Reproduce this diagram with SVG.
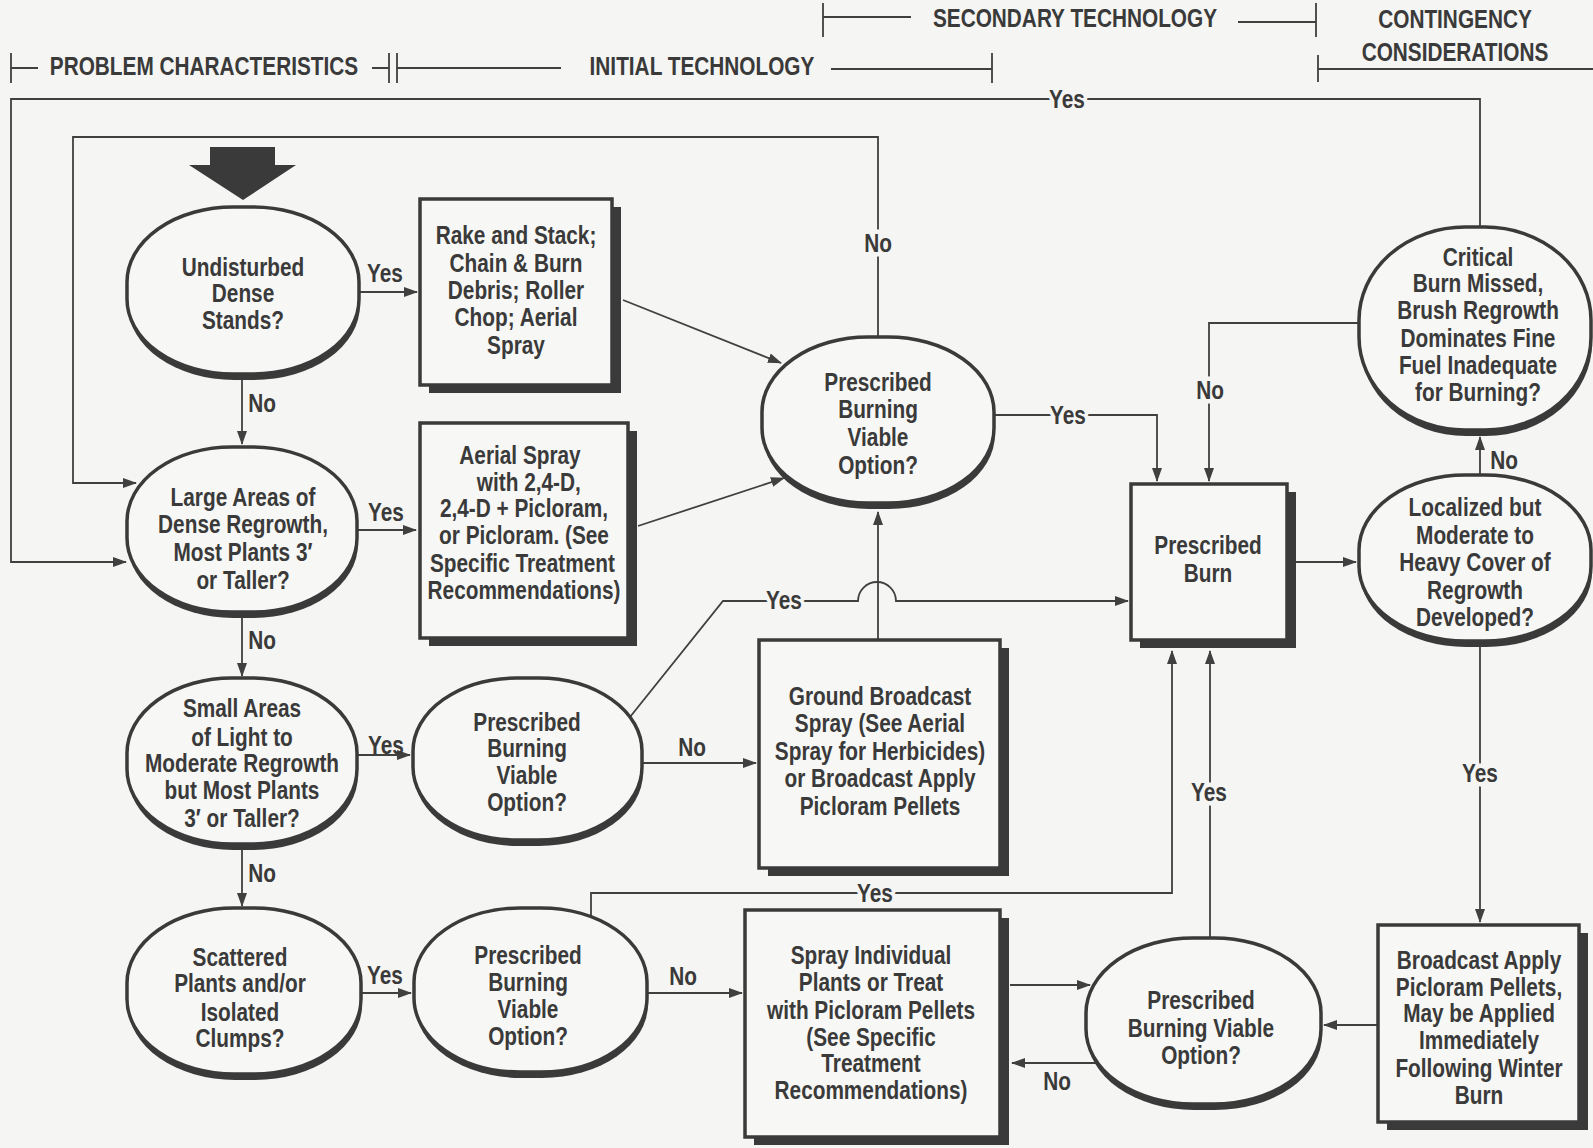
<svg xmlns="http://www.w3.org/2000/svg" width="1593" height="1148" viewBox="0 0 1593 1148">
  <defs>
    <marker id="ah" markerWidth="14" markerHeight="10" refX="13" refY="5" orient="auto" markerUnits="userSpaceOnUse">
      <path d="M0,0 L14,5 L0,10 z" fill="#404040"/>
    </marker>
    <style>
      .bg { fill:#f5f5f3; }
      .ln { fill:none; stroke:#404040; stroke-width:1.8; }
      .arr { marker-end:url(#ah); }
      .br { fill:none; stroke:#404040; stroke-width:1.8; }
      .shape { fill:#f7f7f5; stroke:#3a3a3a; stroke-width:3.5; }
      .shadow { fill:#3a3a3a; }
      .t { font-family:"Liberation Sans", Arial, sans-serif; font-weight:bold; font-size:26px; fill:#3a3a3a; text-anchor:middle; }
      .halo { stroke:#f5f5f3; stroke-width:9; stroke-linejoin:round; paint-order:stroke; }
    </style>
  </defs>

  <rect class="bg" x="0" y="0" width="1593" height="1148"/>

  <!-- column headings with bracket rules -->
  <g id="headings">
    <path class="br" d="M11,53 V83 M11,68 H38 M372,68 H389 M389,53 V83 M397,53 V83 M397,68 H561 M831,69 H992 M992,53 V83 M823,3 V37 M823,17 H911 M1238,22 H1316 M1316,3 V37 M1318,55 V82 M1318,69 H1593"/>
    <text class="t" transform="translate(204 0) scale(0.8 1)"><tspan x="0" y="75">PROBLEM  CHARACTERISTICS</tspan></text>
    <text class="t" transform="translate(702 0) scale(0.8 1)"><tspan x="0" y="75">INITIAL  TECHNOLOGY</tspan></text>
    <text class="t" transform="translate(1075 0) scale(0.8 1)"><tspan x="0" y="27">SECONDARY  TECHNOLOGY</tspan></text>
    <text class="t" transform="translate(1455 0) scale(0.8 1)"><tspan x="0" y="28">CONTINGENCY</tspan><tspan x="0" y="61">CONSIDERATIONS</tspan></text>
  </g>

  <!-- connectors -->
  <g id="connectors">
    <path class="ln arr" d="M1480,227 V99 H11 V562 H126"/>
    <path class="ln arr" d="M878,337 V137 H73 V483 H136"/>
    <path class="ln arr" d="M360,292 H417"/>
    <path class="ln arr" d="M242,380 V444"/>
    <path class="ln arr" d="M623,300 L781,363"/>
    <path class="ln arr" d="M357,530 H416"/>
    <path class="ln arr" d="M638,526 L784,478"/>
    <path class="ln arr" d="M242,618 V676"/>
    <path class="ln arr" d="M357,755 H410"/>
    <path class="ln arr" d="M643,763 H756"/>
    <path class="ln arr" d="M630,717 L723,601 H858 A19,19 0 0 1 896,601 H1128"/>
    <path class="ln arr" d="M878,640 V512"/>
    <path class="ln arr" d="M242,850 V906"/>
    <path class="ln arr" d="M362,993 H411"/>
    <path class="ln arr" d="M648,993 H742"/>
    <path class="ln arr" d="M591,920 V893 H1172 V651"/>
    <path class="ln arr" d="M994,415 H1157 V481"/>
    <path class="ln arr" d="M1359,323 H1209 V481"/>
    <path class="ln arr" d="M1295,562 H1356"/>
    <path class="ln arr" d="M1480,475 V437"/>
    <path class="ln arr" d="M1480,647 V922"/>
    <path class="ln arr" d="M1378,1025 H1324"/>
    <path class="ln arr" d="M1210,938 V651"/>
    <path class="ln arr" d="M1010,985 H1090"/>
    <path class="ln arr" d="M1098,1063 H1012"/>

    <!-- branch labels -->
    <text class="t halo" transform="translate(1067 0) scale(0.8 1)"><tspan x="0" y="108">Yes</tspan></text>
    <text class="t halo" transform="translate(878 0) scale(0.8 1)"><tspan x="0" y="252">No</tspan></text>
    <text class="t" transform="translate(385 0) scale(0.8 1)"><tspan x="0" y="282">Yes</tspan></text>
    <text class="t" transform="translate(262 0) scale(0.8 1)"><tspan x="0" y="412">No</tspan></text>
    <text class="t" transform="translate(386 0) scale(0.8 1)"><tspan x="0" y="521">Yes</tspan></text>
    <text class="t" transform="translate(262 0) scale(0.8 1)"><tspan x="0" y="649">No</tspan></text>
    <text class="t" transform="translate(386 0) scale(0.8 1)"><tspan x="0" y="754">Yes</tspan></text>
    <text class="t" transform="translate(692 0) scale(0.8 1)"><tspan x="0" y="756">No</tspan></text>
    <text class="t halo" transform="translate(784 0) scale(0.8 1)"><tspan x="0" y="609">Yes</tspan></text>
    <text class="t" transform="translate(262 0) scale(0.8 1)"><tspan x="0" y="882">No</tspan></text>
    <text class="t" transform="translate(385 0) scale(0.8 1)"><tspan x="0" y="984">Yes</tspan></text>
    <text class="t" transform="translate(683 0) scale(0.8 1)"><tspan x="0" y="985">No</tspan></text>
    <text class="t halo" transform="translate(875 0) scale(0.8 1)"><tspan x="0" y="902">Yes</tspan></text>
    <text class="t halo" transform="translate(1068 0) scale(0.8 1)"><tspan x="0" y="424">Yes</tspan></text>
    <text class="t halo" transform="translate(1210 0) scale(0.8 1)"><tspan x="0" y="399">No</tspan></text>
    <text class="t" transform="translate(1504 0) scale(0.8 1)"><tspan x="0" y="469">No</tspan></text>
    <text class="t halo" transform="translate(1480 0) scale(0.8 1)"><tspan x="0" y="782">Yes</tspan></text>
    <text class="t halo" transform="translate(1209 0) scale(0.8 1)"><tspan x="0" y="801">Yes</tspan></text>
    <text class="t" transform="translate(1057 0) scale(0.8 1)"><tspan x="0" y="1090">No</tspan></text>
  </g>

  <!-- entry arrow -->
  <g id="start">
    <polygon class="shadow" points="210,147 275,147 275,165 296,165 243,200 189,165 210,165"/>
  </g>

  <!-- decision: undisturbed dense stands -->
  <g id="q-undisturbed">
    <rect class="shadow" x="128" y="213" width="232" height="167" rx="106" ry="75"/>
    <rect class="shape" x="127" y="207" width="232" height="167" rx="106" ry="75"/>
    <text class="t" transform="translate(243 0) scale(0.8 1)"><tspan x="0" y="276">Undisturbed</tspan><tspan x="0" y="302">Dense</tspan><tspan x="0" y="329">Stands?</tspan></text>
  </g>

  <!-- treatment: mechanical -->
  <g id="t-rake">
    <rect class="shadow" x="429" y="207" width="192" height="186"/>
    <rect class="shape" x="420" y="199" width="192" height="186"/>
    <text class="t" transform="translate(516 0) scale(0.8 1)"><tspan x="0" y="244">Rake and Stack;</tspan><tspan x="0" y="272">Chain &amp; Burn</tspan><tspan x="0" y="299">Debris; Roller</tspan><tspan x="0" y="326">Chop; Aerial</tspan><tspan x="0" y="354">Spray</tspan></text>
  </g>

  <!-- decision: large areas of dense regrowth -->
  <g id="q-large">
    <rect class="shadow" x="128" y="453" width="230" height="165" rx="105" ry="74"/>
    <rect class="shape" x="127" y="447" width="230" height="165" rx="105" ry="74"/>
    <text class="t" transform="translate(243 0) scale(0.8 1)"><tspan x="0" y="506">Large Areas of</tspan><tspan x="0" y="533">Dense Regrowth,</tspan><tspan x="0" y="561">Most Plants 3′</tspan><tspan x="0" y="589">or Taller?</tspan></text>
  </g>

  <!-- treatment: aerial spray -->
  <g id="t-aerial">
    <rect class="shadow" x="429" y="431" width="208" height="215"/>
    <rect class="shape" x="420" y="423" width="208" height="215"/>
    <text class="t" transform="translate(524 0) scale(0.8 1)"><tspan x="-5" y="464">Aerial Spray</tspan><tspan x="6" y="491">with 2,4-D,</tspan><tspan x="0" y="517">2,4-D + Picloram,</tspan><tspan x="0" y="544">or Picloram. (See</tspan><tspan x="-2" y="572">Specific Treatment</tspan><tspan x="0" y="599">Recommendations)</tspan></text>
  </g>

  <!-- decision: small areas -->
  <g id="q-small">
    <rect class="shadow" x="128" y="684" width="230" height="166" rx="105" ry="75"/>
    <rect class="shape" x="127" y="678" width="230" height="166" rx="105" ry="75"/>
    <text class="t" transform="translate(242 0) scale(0.8 1)"><tspan x="0" y="717">Small Areas</tspan><tspan x="0" y="746">of Light to</tspan><tspan x="0" y="772">Moderate Regrowth</tspan><tspan x="0" y="799">but Most Plants</tspan><tspan x="0" y="827">3′ or Taller?</tspan></text>
  </g>

  <!-- decision: burning viable (small areas branch) -->
  <g id="q-burn-small">
    <rect class="shadow" x="414" y="684" width="229" height="162" rx="104" ry="73"/>
    <rect class="shape" x="413" y="678" width="229" height="162" rx="104" ry="73"/>
    <text class="t" transform="translate(527 0) scale(0.8 1)"><tspan x="0" y="731">Prescribed</tspan><tspan x="0" y="757">Burning</tspan><tspan x="0" y="784">Viable</tspan><tspan x="0" y="811">Option?</tspan></text>
  </g>

  <!-- decision: scattered plants -->
  <g id="q-scattered">
    <rect class="shadow" x="128" y="914" width="234" height="166" rx="107" ry="75"/>
    <rect class="shape" x="127" y="908" width="234" height="166" rx="107" ry="75"/>
    <text class="t" transform="translate(240 0) scale(0.8 1)"><tspan x="0" y="966">Scattered</tspan><tspan x="0" y="992">Plants and/or</tspan><tspan x="0" y="1021">Isolated</tspan><tspan x="0" y="1047">Clumps?</tspan></text>
  </g>

  <!-- decision: burning viable (scattered branch) -->
  <g id="q-burn-scattered">
    <rect class="shadow" x="415" y="914" width="233" height="164" rx="106" ry="74"/>
    <rect class="shape" x="414" y="908" width="233" height="164" rx="106" ry="74"/>
    <text class="t" transform="translate(528 0) scale(0.8 1)"><tspan x="0" y="964">Prescribed</tspan><tspan x="0" y="991">Burning</tspan><tspan x="0" y="1018">Viable</tspan><tspan x="0" y="1045">Option?</tspan></text>
  </g>

  <!-- decision: burning viable (after initial treatment) -->
  <g id="q-burn-initial">
    <rect class="shadow" x="763" y="343" width="232" height="166" rx="106" ry="75"/>
    <rect class="shape" x="762" y="337" width="232" height="166" rx="106" ry="75"/>
    <text class="t" transform="translate(878 0) scale(0.8 1)"><tspan x="0" y="391">Prescribed</tspan><tspan x="0" y="418">Burning</tspan><tspan x="0" y="446">Viable</tspan><tspan x="0" y="474">Option?</tspan></text>
  </g>

  <!-- treatment: ground broadcast spray -->
  <g id="t-ground">
    <rect class="shadow" x="768" y="648" width="241" height="228"/>
    <rect class="shape" x="759" y="640" width="241" height="228"/>
    <text class="t" transform="translate(880 0) scale(0.8 1)"><tspan x="0" y="705">Ground Broadcast</tspan><tspan x="0" y="732">Spray (See Aerial</tspan><tspan x="0" y="760">Spray for Herbicides)</tspan><tspan x="0" y="787">or Broadcast Apply</tspan><tspan x="0" y="815">Picloram Pellets</tspan></text>
  </g>

  <!-- treatment: individual plants -->
  <g id="t-individual">
    <rect class="shadow" x="754" y="918" width="255" height="227"/>
    <rect class="shape" x="745" y="910" width="255" height="227"/>
    <text class="t" transform="translate(871 0) scale(0.8 1)"><tspan x="0" y="964">Spray Individual</tspan><tspan x="0" y="991">Plants or Treat</tspan><tspan x="0" y="1019">with Picloram Pellets</tspan><tspan x="0" y="1046">(See Specific</tspan><tspan x="0" y="1072">Treatment</tspan><tspan x="0" y="1099">Recommendations)</tspan></text>
  </g>

  <!-- action: prescribed burn -->
  <g id="t-burn">
    <rect class="shadow" x="1140" y="492" width="156" height="156"/>
    <rect class="shape" x="1131" y="484" width="156" height="156"/>
    <text class="t" transform="translate(1208 0) scale(0.8 1)"><tspan x="0" y="554">Prescribed</tspan><tspan x="0" y="582">Burn</tspan></text>
  </g>

  <!-- decision: critical burn missed -->
  <g id="q-critical">
    <rect class="shadow" x="1360" y="233" width="232" height="203" rx="106" ry="93"/>
    <rect class="shape" x="1359" y="227" width="232" height="203" rx="106" ry="93"/>
    <text class="t" transform="translate(1478 0) scale(0.8 1)"><tspan x="0" y="266">Critical</tspan><tspan x="0" y="292">Burn Missed,</tspan><tspan x="0" y="319">Brush Regrowth</tspan><tspan x="0" y="347">Dominates Fine</tspan><tspan x="0" y="374">Fuel Inadequate</tspan><tspan x="0" y="401">for Burning?</tspan></text>
  </g>

  <!-- decision: localized regrowth -->
  <g id="q-localized">
    <rect class="shadow" x="1360" y="481" width="232" height="166" rx="106" ry="75"/>
    <rect class="shape" x="1359" y="475" width="232" height="166" rx="106" ry="75"/>
    <text class="t" transform="translate(1475 0) scale(0.8 1)"><tspan x="0" y="516">Localized but</tspan><tspan x="0" y="544">Moderate to</tspan><tspan x="0" y="571">Heavy Cover of</tspan><tspan x="0" y="599">Regrowth</tspan><tspan x="0" y="626">Developed?</tspan></text>
  </g>

  <!-- treatment: picloram pellets after winter burn -->
  <g id="t-pellets">
    <rect class="shadow" x="1387" y="933" width="201" height="197"/>
    <rect class="shape" x="1378" y="925" width="201" height="197"/>
    <text class="t" transform="translate(1479 0) scale(0.8 1)"><tspan x="0" y="969">Broadcast Apply</tspan><tspan x="0" y="996">Picloram Pellets,</tspan><tspan x="0" y="1022">May be Applied</tspan><tspan x="0" y="1049">Immediately</tspan><tspan x="0" y="1077">Following Winter</tspan><tspan x="0" y="1104">Burn</tspan></text>
  </g>

  <!-- decision: burning viable (contingency branch) -->
  <g id="q-burn-contingency">
    <rect class="shadow" x="1087" y="944" width="235" height="166" rx="107" ry="75"/>
    <rect class="shape" x="1086" y="938" width="235" height="166" rx="107" ry="75"/>
    <text class="t" transform="translate(1201 0) scale(0.8 1)"><tspan x="0" y="1009">Prescribed</tspan><tspan x="0" y="1037">Burning Viable</tspan><tspan x="0" y="1064">Option?</tspan></text>
  </g>
</svg>
